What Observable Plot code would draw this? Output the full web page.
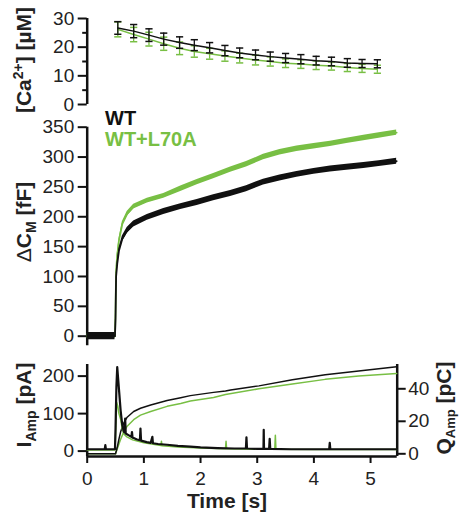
<!DOCTYPE html>
<html>
<head>
<meta charset="utf-8">
<script src="https://cdn.jsdelivr.net/npm/d3@7"></script>
<script src="https://cdn.jsdelivr.net/npm/@observablehq/plot@0.6"></script>
<style>
  html, body { margin: 0; padding: 0; background: #fff; }
  #chart { position: relative; width: 462px; height: 518px; background: #fff; }
  #chart svg { position: absolute; top: 0; left: 0; background: transparent !important; overflow: visible; }
</style>
</head>
<body>
<div id="chart"></div>
<script>
// ---------- DATA ----------
// Top panel: [Ca2+] (µM), mean ± SEM
const caTime   = [0.54, 0.82, 1.09, 1.35, 1.63, 1.89, 2.16, 2.43, 2.69, 2.97, 3.23, 3.50, 3.77, 4.04, 4.31, 4.59, 4.85, 5.12];
const caWT     = [26.7, 25.6, 24.2, 22.8, 21.6, 20.7, 19.8, 18.8, 18.0, 17.3, 16.7, 16.2, 15.8, 15.3, 15.0, 14.5, 14.3, 14.2];
const caWTerr  = [2.2, 2.3, 2.2, 2.1, 2.0, 1.9, 1.8, 1.8, 1.7, 1.7, 1.6, 1.6, 1.6, 1.5, 1.5, 1.5, 1.4, 1.4];
const caL70A   = [26.2, 24.4, 22.8, 21.2, 19.6, 18.5, 17.7, 16.9, 16.2, 15.5, 15.0, 14.4, 14.1, 13.7, 13.4, 12.9, 12.6, 12.3];
const caL70Aerr= [2.6, 2.5, 2.4, 2.3, 2.2, 2.0, 1.9, 1.8, 1.7, 1.7, 1.6, 1.5, 1.5, 1.5, 1.4, 1.4, 1.4, 1.4];

// Middle panel: ΔCm (fF) traces and their noise half-width
const cmTime    = [0, 0.1, 0.2, 0.3, 0.4, 0.49, 0.50, 0.51, 0.53, 0.56, 0.62, 0.705, 0.82, 1.06, 1.35, 1.65, 1.94, 2.23, 2.53, 2.81, 3.11, 3.40, 3.70, 4.00, 4.29, 4.58, 4.88, 5.15, 5.46];
const cmWT      = [0, 0, 0, 0, 0, 0, 30, 100, 121, 143, 163, 177, 188, 199, 209, 217, 224, 232, 239, 247, 258, 265, 271, 276, 280, 283, 286, 289, 293];
const cmWTnoise = [6, 6, 6, 6, 6, 6, 0, 0, 3, 4, 5, 5, 5, 5, 5, 5, 5, 5, 5, 5, 5, 5, 5, 5, 5, 5, 5, 5, 5];
const cmL70A    = [0, 0, 0, 0, 0, 0, 40, 110, 135, 160, 188, 205, 217, 227, 235, 247, 258, 268, 279, 288, 300, 308, 314, 318, 322, 327, 332, 336, 341];
const cmL70Anoise=[4, 4, 4, 4, 4, 4, 0, 0, 3, 3, 3.5, 4, 4, 4, 4, 4.5, 4.5, 4.5, 4.5, 4.5, 4.5, 4.5, 4.5, 4.5, 4.5, 4.5, 4.5, 4.5, 4.5];

// Bottom panel: amperometric current (pA)
const iWTtime  = [0, 0.31, 0.32, 0.33, 0.49, 0.50, 0.515, 0.53, 0.545, 0.56, 0.59, 0.62, 0.646, 0.66, 0.67, 0.68, 0.735, 0.78, 0.79, 0.80, 0.82, 0.88, 0.93, 0.94, 0.95, 1.0, 1.05, 1.12, 1.15, 1.16, 1.25, 1.41, 1.6, 1.82, 2.0, 2.3, 2.6, 2.80, 2.81, 2.82, 3.0, 3.11, 3.115, 3.12, 3.21, 3.22, 3.23, 3.6, 4.0, 4.27, 4.28, 4.29, 4.8, 5.46];
const iWT      = [5, 5, 16, 5, 5, 60, 170, 224, 195, 166, 108, 68, 52, 50, 87, 47, 42, 38, 51, 36, 35, 31, 29, 60, 28, 26, 24, 22, 38, 21, 19, 17, 14, 12, 10, 8, 7, 7, 37, 7, 6, 6, 57, 6, 6, 33, 6, 5, 5, 5, 22, 5, 5, 5];
const iL70Atime= [0, 0.49, 0.50, 0.52, 0.54, 0.56, 0.59, 0.62, 0.65, 0.70, 0.80, 1.0, 1.30, 1.31, 1.32, 1.6, 2.0, 2.44, 2.45, 2.46, 3.0, 3.31, 3.32, 3.33, 4.0, 5.46];
const iL70A    = [3, 3, 40, 130, 120, 100, 85, 58, 45, 38, 30, 22, 15, 26, 14, 11, 8, 6, 26, 6, 5, 5, 42, 5, 4, 4];

// Bottom panel: integrated charge (pC)
const qWTtime  = [0, 0.50, 0.53, 0.56, 0.59, 0.646, 0.705, 0.82, 0.94, 1.12, 1.41, 1.65, 1.82, 2.23, 2.44, 2.53, 3.03, 3.62, 4.20, 4.79, 5.46];
const qWT      = [0, 0, 4, 9, 13.5, 19, 22.5, 26, 28, 30, 32.8, 34.5, 35.8, 37.8, 38.7, 39.2, 41.8, 45.5, 48.7, 51, 53.6];
const qL70Atime= [0, 0.50, 0.53, 0.56, 0.59, 0.646, 0.705, 0.82, 0.94, 1.12, 1.41, 1.65, 1.82, 2.23, 2.44, 3.03, 3.62, 4.20, 4.79, 5.46];
const qL70A    = [0, 0, 3, 6, 9, 13.5, 17, 21, 23.8, 26, 29.2, 31, 32.5, 34.7, 36.5, 40, 43, 45.8, 47.8, 49.4];

// Ticks
const xTicks = [0, 1, 2, 3, 4, 5];
const caTicks = [0, 10, 20, 30], caMinor = [5, 15, 25];
const cmTicks = [0, 50, 100, 150, 200, 250, 300, 350];
const iTicks = [0, 100, 200];
const qTicks = [0, 20, 40];

// ---------- STYLE ----------
const W = 462, H = 518;
const X0 = 86.7, X1 = 396.7;
const BLACK = "#111111", GREEN = "#78bf44", INK = "#222222";
const FONT = "'Liberation Sans', Arial, Helvetica, sans-serif";
const xDomain = [0, 5.47];

function frame(opts) {
  return Object.assign({
    width: W, height: H,
    marginLeft: X0, marginRight: W - X1,
    style: {background: "transparent", fontFamily: FONT, fontSize: "19px", color: INK, overflow: "visible"}
  }, opts);
}
const capSymbol = {draw(ctx) { ctx.moveTo(-3.6, 0); ctx.lineTo(3.6, 0); }};

const chart = document.getElementById("chart");

// --- Top: [Ca2+]
const caRows = caTime.map((t, i) => ({t, wt: caWT[i], wte: caWTerr[i], mu: caL70A[i], mue: caL70Aerr[i]}));
chart.append(Plot.plot(frame({
  marginTop: 18, marginBottom: H - 104,
  x: {domain: xDomain, axis: null},
  y: {domain: [0, 30]},
  marks: [
    Plot.ruleX([0], {y1: 0, y2: 30, stroke: BLACK, strokeWidth: 2.5}),
    Plot.axisY(caTicks, {tickSize: 9, tickPadding: 4, strokeWidth: 2, label: null, stroke: BLACK}),
    Plot.axisY(caMinor, {tickSize: 4.5, text: null, strokeWidth: 2, label: null, stroke: BLACK}),
    Plot.lineY(caRows, {x: "t", y: "mu", stroke: GREEN, strokeWidth: 1.5}),
    Plot.ruleX(caRows, {x: "t", y1: d => d.mu - d.mue, y2: d => d.mu + d.mue, stroke: GREEN, strokeWidth: 1.3}),
    Plot.dot(caRows, {x: "t", y: d => d.mu - d.mue, symbol: capSymbol, stroke: GREEN, strokeWidth: 1.5, fill: "none"}),
    Plot.dot(caRows, {x: "t", y: d => d.mu + d.mue, symbol: capSymbol, stroke: GREEN, strokeWidth: 1.5, fill: "none"}),
    Plot.lineY(caRows, {x: "t", y: "wt", stroke: BLACK, strokeWidth: 1.5}),
    Plot.ruleX(caRows, {x: "t", y1: d => d.wt - d.wte, y2: d => d.wt + d.wte, stroke: BLACK, strokeWidth: 1.3}),
    Plot.dot(caRows, {x: "t", y: d => d.wt - d.wte, symbol: capSymbol, stroke: BLACK, strokeWidth: 1.5, fill: "none"}),
    Plot.dot(caRows, {x: "t", y: d => d.wt + d.wte, symbol: capSymbol, stroke: BLACK, strokeWidth: 1.5, fill: "none"})
  ]
})));

// --- Middle: ΔCm
const cmRows = cmTime.map((t, i) => ({t, wt: cmWT[i], wtn: cmWTnoise[i], mu: cmL70A[i], mun: cmL70Anoise[i]}));
chart.append(Plot.plot(frame({
  marginTop: 126.7, marginBottom: H - 335.7,
  x: {domain: xDomain, axis: null},
  y: {domain: [0, 350]},
  marks: [
    Plot.ruleX([0], {y1: -16, y2: 350, stroke: BLACK, strokeWidth: 2.5}),
    Plot.axisY(cmTicks, {tickSize: 9, tickPadding: 4, strokeWidth: 2, label: null, stroke: BLACK}),
    Plot.areaY(cmRows, {x: "t", y1: d => d.mu - d.mun, y2: d => d.mu + d.mun, fill: GREEN}),
    Plot.lineY(cmRows, {x: "t", y: "mu", stroke: GREEN, strokeWidth: 1.8}),
    Plot.areaY(cmRows, {x: "t", y1: d => d.wt - d.wtn, y2: d => d.wt + d.wtn, fill: BLACK}),
    Plot.lineY(cmRows, {x: "t", y: "wt", stroke: BLACK, strokeWidth: 1.8})
  ]
})));

// --- Bottom: charge (right axis)
const qWTrows = qWTtime.map((t, i) => ({t, q: qWT[i]}));
const qMUrows = qL70Atime.map((t, i) => ({t, q: qL70A[i]}));
chart.append(Plot.plot(frame({
  marginTop: 364, marginBottom: H - 456,
  x: {domain: xDomain, axis: null},
  y: {domain: [-1.66, 54.95]},
  marks: [
    Plot.ruleX([5.47], {y1: -1.66, y2: 54.95, stroke: BLACK, strokeWidth: 2.5}),
    Plot.axisY(qTicks, {anchor: "right", tickSize: 8, tickPadding: 3, strokeWidth: 2, label: null, stroke: BLACK}),
    Plot.lineY(qMUrows, {x: "t", y: "q", stroke: GREEN, strokeWidth: 1.5}),
    Plot.lineY(qWTrows, {x: "t", y: "q", stroke: BLACK, strokeWidth: 1.5})
  ]
})));

// --- Bottom: current (left axis) + time axis
const iWTrows = iWTtime.map((t, i) => ({t, v: iWT[i]}));
const iMUrows = iL70Atime.map((t, i) => ({t, v: iL70A[i]}));
chart.append(Plot.plot(frame({
  marginTop: 364, marginBottom: H - 456,
  x: {domain: xDomain},
  y: {domain: [-14.4, 231]},
  marks: [
    Plot.ruleX([0], {y1: -14.4, y2: 231, stroke: BLACK, strokeWidth: 2.5}),
    Plot.ruleY([-14.4], {x1: 0, x2: 5.47, stroke: BLACK, strokeWidth: 2.5}),
    Plot.axisY(iTicks, {tickSize: 9, tickPadding: 4, strokeWidth: 2, label: null, stroke: BLACK}),
    Plot.axisX(xTicks, {tickSize: 7, tickPadding: 8, strokeWidth: 2, label: null, stroke: BLACK}),
    Plot.lineY(iMUrows, {x: "t", y: "v", stroke: GREEN, strokeWidth: 1.5}),
    Plot.lineY(iWTrows, {x: "t", y: "v", stroke: BLACK, strokeWidth: 2.2})
  ]
})));

// ---------- LABELS ----------
const ov = d3.select(chart).append("svg")
  .attr("width", W).attr("height", H)
  .style("font-family", FONT).style("fill", INK);

function vlabel(x, y, parts) {
  const t = ov.append("text")
    .attr("transform", `translate(${x},${y}) rotate(-90)`)
    .attr("text-anchor", "middle")
    .attr("font-size", 21).attr("font-weight", "bold").attr("fill", INK);
  for (const p of parts) {
    const s = t.append("tspan").text(p.text);
    if (p.size) s.attr("font-size", p.size);
    if (p.dy) s.attr("dy", p.dy);
    if (p.weight) s.attr("font-weight", p.weight);
  }
}
vlabel(31, 60, [{text: "[Ca"}, {text: "2+", size: 14, dy: -8}, {text: "] [µM]", dy: 8}]);
vlabel(31, 222, [{text: "Δ", weight: "normal"}, {text: "C"}, {text: "M", size: 14, dy: 5}, {text: " [fF]", dy: -5}]);
vlabel(31, 405, [{text: "I"}, {text: "Amp", size: 14, dy: 5}, {text: " [pA]", dy: -5}]);
vlabel(451, 408, [{text: "Q"}, {text: "Amp", size: 13, dy: 4}, {text: " [pC]", dy: -4}]);

ov.append("text").attr("x", 227).attr("y", 508).attr("text-anchor", "middle")
  .attr("font-size", 21).attr("font-weight", "bold").attr("fill", INK).text("Time [s]");

ov.append("text").attr("x", 105).attr("y", 125)
  .attr("font-size", 20).attr("font-weight", "bold").attr("fill", BLACK).text("WT");
ov.append("text").attr("x", 105).attr("y", 146)
  .attr("font-size", 20).attr("font-weight", "bold").attr("fill", GREEN).text("WT+L70A");
</script>
</body>
</html>
